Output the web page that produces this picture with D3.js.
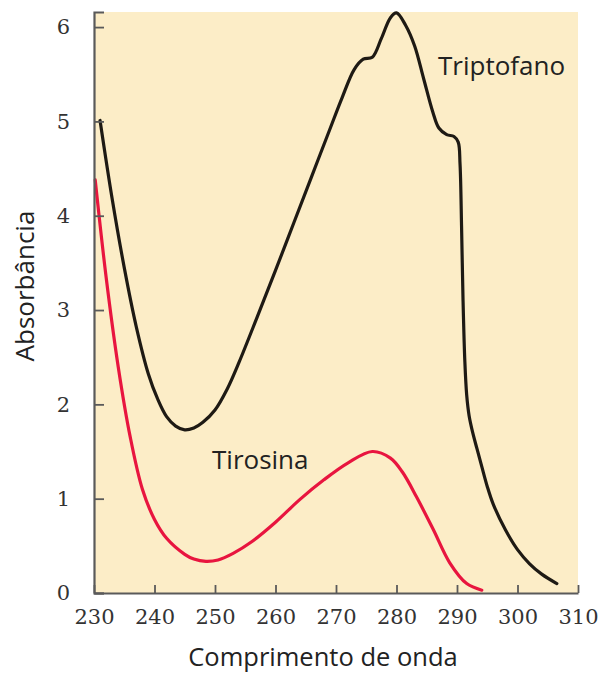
<!DOCTYPE html>
<html>
<head>
<meta charset="utf-8">
<script src="https://cdn.jsdelivr.net/npm/d3@7"></script>
<style>
  html, body { margin: 0; padding: 0; background: #fff; }
  svg { display: block; }
</style>
</head>
<body>
<svg id="chart" width="600" height="673"></svg>
<script>
// ---- data ----
const xTicks = [230, 240, 250, 260, 270, 280, 290, 300, 310];
const yTicks = [0, 1, 2, 3, 4, 5, 6];

const tripWavelength = [231, 233, 235, 237, 239, 240.5, 242, 243.5, 245, 246.5, 248, 250, 252, 254, 257, 260, 263, 266, 269, 271, 273, 274.5, 276, 277.5, 279, 280, 281.5, 283, 284.5, 286, 287, 288.3, 289.5, 290.2, 290.5, 290.75, 291.0, 291.3, 291.6, 292.0, 292.6, 293.3, 294.1, 295, 296, 298, 300, 302, 304, 306.5];
const tripAbs = [5.01, 4.18, 3.45, 2.82, 2.32, 2.06, 1.87, 1.77, 1.73, 1.75, 1.81, 1.94, 2.16, 2.45, 2.93, 3.42, 3.92, 4.42, 4.92, 5.25, 5.55, 5.66, 5.68, 5.88, 6.10, 6.15, 6.02, 5.80, 5.45, 5.10, 4.93, 4.86, 4.84, 4.78, 4.55, 3.90, 3.10, 2.45, 2.10, 1.88, 1.70, 1.53, 1.34, 1.13, 0.94, 0.67, 0.46, 0.31, 0.20, 0.10];

const tyrWavelength = [230.2, 232, 234, 236, 238, 240, 242, 245, 246.5, 248.5, 250.5, 253, 256, 260, 264, 268, 272, 276, 279, 281, 283.3, 286.1, 288.8, 291.6, 294.1];
const tyrAbs = [4.38, 3.35, 2.40, 1.65, 1.10, 0.78, 0.58, 0.41, 0.36, 0.335, 0.35, 0.42, 0.54, 0.75, 0.99, 1.20, 1.38, 1.50, 1.43, 1.28, 1.02, 0.67, 0.32, 0.10, 0.03];

const seriesNames = ["Triptofano", "Tirosina"];
const seriesColors = ["#1e1a14", "#e8153f"];

// ---- layout ----
const svg = d3.select("#chart");
const x = d3.scaleLinear().domain([230, 310]).range([94, 578]);
const y = d3.scaleLinear().domain([0, 6.16]).range([593, 12]);

// background panel
svg.append("rect")
  .attr("x", x(230)).attr("y", y(6.16))
  .attr("width", x(310) - x(230)).attr("height", y(0) - y(6.16))
  .attr("fill", "#fcedc7");

// lines
const line = d3.line()
  .x(d => x(d[0])).y(d => y(d[1]))
  .curve(d3.curveCatmullRom.alpha(0.5));

const trip = tripWavelength.map((w, i) => [w, tripAbs[i]]);
const tyr = tyrWavelength.map((w, i) => [w, tyrAbs[i]]);

svg.append("path").datum(trip)
  .attr("d", line).attr("fill", "none")
  .attr("stroke", seriesColors[0]).attr("stroke-width", 3.2)
  .attr("stroke-linejoin", "round").attr("stroke-linecap", "round");

svg.append("path").datum(tyr)
  .attr("d", line).attr("fill", "none")
  .attr("stroke", seriesColors[1]).attr("stroke-width", 3.2)
  .attr("stroke-linejoin", "round").attr("stroke-linecap", "round");

// axes
const axisColor = "#5a5a5a";
const xAxis = d3.axisBottom(x).tickValues(xTicks).tickSizeInner(-8).tickSizeOuter(0).tickPadding(16);
const gx = svg.append("g").attr("transform", `translate(0,${y(0)})`).call(xAxis);
gx.select(".domain").attr("stroke", axisColor).attr("stroke-width", 2.2);
gx.selectAll(".tick line").attr("stroke", axisColor).attr("stroke-width", 1.8);
gx.selectAll(".tick text")
  .attr("font-family", "'DejaVu Serif', serif").attr("font-size", 21)
  .attr("fill", "#333").attr("dy", "0.71em");

const yAxis = d3.axisLeft(y).tickValues(yTicks).tickFormat(d3.format("d"))
  .tickSizeInner(-10).tickSizeOuter(-10).tickPadding(24);
const gy = svg.append("g").attr("transform", `translate(${x(230)},0)`).call(yAxis);
gy.select(".domain").attr("stroke", axisColor).attr("stroke-width", 2.2).attr("fill", "none");
gy.selectAll(".tick line").attr("stroke", axisColor).attr("stroke-width", 1.8);
gy.selectAll(".tick text")
  .attr("font-family", "'DejaVu Serif', serif").attr("font-size", 21)
  .attr("fill", "#333");

// axis titles
svg.append("text")
  .attr("x", 323).attr("y", 666)
  .attr("text-anchor", "middle")
  .attr("font-family", "'Open Sans', sans-serif").attr("font-size", 25.5)
  .attr("fill", "#222")
  .text("Comprimento de onda");

svg.append("text")
  .attr("transform", "translate(34,286) rotate(-90)")
  .attr("text-anchor", "middle")
  .attr("font-family", "'Open Sans', sans-serif").attr("font-size", 26)
  .attr("fill", "#222")
  .text("Absorbância");

// series labels
svg.append("text")
  .attr("x", 438).attr("y", 75)
  .attr("font-family", "'Open Sans', sans-serif").attr("font-size", 26)
  .attr("fill", "#222")
  .text(seriesNames[0]);

svg.append("text")
  .attr("x", 212).attr("y", 469)
  .attr("font-family", "'Open Sans', sans-serif").attr("font-size", 26)
  .attr("fill", "#222")
  .text(seriesNames[1]);
</script>
</body>
</html>
